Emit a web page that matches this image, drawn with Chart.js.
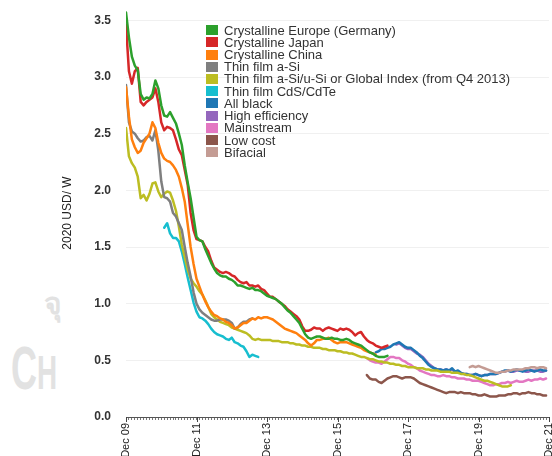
<!DOCTYPE html>
<html>
<head>
<meta charset="utf-8">
<script src="https://cdn.jsdelivr.net/npm/chart.js@4.4.1/dist/chart.umd.min.js"></script>
<style>
  html, body { margin: 0; padding: 0; background: #ffffff; }
  #wrap { position: relative; width: 552px; height: 456px; overflow: hidden; }
  #c { position: absolute; left: 0; top: 0; }
  .mark { position: absolute; color: #e2e2e2; font-family: "Liberation Sans", sans-serif; font-weight: bold; line-height: 1; transform-origin: 0 0; white-space: nowrap; }
  #legend { position: absolute; left: 206px; top: 24px; font-family: "Liberation Sans", Arial, sans-serif; font-size: 13px; color: #333; }
  #legend .row { height: 12.23px; display: flex; align-items: center; white-space: nowrap; }
  #legend .sw { width: 12px; height: 10px; margin-right: 6px; flex: none; }
</style>
</head>
<body>
<div id="wrap">
  <div class="mark" style="left:11px; top:337px; font-size:62px; transform: scaleX(0.58);">C<span style="font-size:48px;">H</span></div>
  <div class="mark" style="left:44px; top:288px; font-size:30px; font-family:'Noto Sans', sans-serif;">จุ</div>
  <canvas id="c" width="552" height="456"></canvas>
  <div id="legend"></div>
</div>
<script>
// Module prices in 2020 USD per watt, monthly, month 0 = Dec 2009
const tickLabels = ['Dec 09', 'Dec 11', 'Dec 13', 'Dec 15', 'Dec 17', 'Dec 19', 'Dec 21'];

const seriesNames = [
  'Crystalline Europe (Germany)', 'Crystalline Japan', 'Crystalline China', 'Thin film a-Si',
  'Thin film a-Si/u-Si or Global Index (from Q4 2013)', 'Thin film CdS/CdTe', 'All black',
  'High efficiency', 'Mainstream', 'Low cost', 'Bifacial'
];
const seriesColors = ['#2ca02c', '#d62728', '#ff7f0e', '#7f7f7f', '#bcbd22', '#17becf',
  '#1f77b4', '#9467bd', '#e377c2', '#8c564b', '#c49c94'];

const europeStart = 0;
const europe = [3.57, 3.35, 3.18, 3.10, 3.06, 2.85, 2.80, 2.82, 2.81, 2.85, 2.97, 2.90, 2.75, 2.66, 2.65, 2.69,
  2.64, 2.59, 2.50, 2.40, 2.22, 2.07, 1.93, 1.76, 1.59, 1.56, 1.55, 1.48, 1.42, 1.36, 1.31, 1.27, 1.25, 1.24,
  1.24, 1.22, 1.21, 1.19, 1.16, 1.16, 1.15, 1.14, 1.13, 1.14, 1.12, 1.12, 1.11, 1.09, 1.07, 1.06, 1.05, 1.04,
  1.02, 1.00, 0.97, 0.94, 0.92, 0.89, 0.86, 0.83, 0.78, 0.73, 0.70, 0.69, 0.70, 0.71, 0.71, 0.70, 0.69, 0.69,
  0.70, 0.69, 0.69, 0.68, 0.68, 0.69, 0.68, 0.66, 0.65, 0.64, 0.63, 0.61, 0.59, 0.57, 0.56, 0.54, 0.53, 0.53,
  0.53, 0.54];

const japanStart = 0;
const japan = [3.46, 3.05, 2.94, 3.05, 3.08, 2.78, 2.75, 2.78, 2.80, 2.82, 2.90, 2.78, 2.60, 2.53, 2.56, 2.55,
  2.53, 2.45, 2.36, 2.31, 2.18, 2.05, 1.80, 1.65, 1.57, 1.56, 1.55, 1.50, 1.46, 1.38, 1.32, 1.30, 1.28, 1.27,
  1.28, 1.27, 1.25, 1.24, 1.21, 1.19, 1.18, 1.19, 1.16, 1.16, 1.15, 1.16, 1.13, 1.12, 1.09, 1.06, 1.06, 1.04,
  1.02, 1.00, 0.98, 0.95, 0.93, 0.91, 0.89, 0.86, 0.80, 0.76, 0.76, 0.77, 0.79, 0.78, 0.78, 0.76, 0.78, 0.79,
  0.78, 0.77, 0.76, 0.78, 0.77, 0.78, 0.77, 0.75, 0.72, 0.74, 0.75, 0.71, 0.68, 0.66, 0.65, 0.63, 0.62, 0.61,
  0.62, 0.63];

const chinaStart = 0;
const china = [2.91, 2.65, 2.45, 2.38, 2.33, 2.35, 2.42, 2.46, 2.50, 2.60, 2.55, 2.42, 2.33, 2.28, 2.26, 2.25,
  2.22, 2.18, 2.12, 2.02, 1.90, 1.70, 1.50, 1.35, 1.22, 1.15, 1.08, 1.02, 0.97, 0.93, 0.90, 0.89, 0.87, 0.86,
  0.84, 0.83, 0.81, 0.78, 0.79, 0.81, 0.83, 0.83, 0.85, 0.87, 0.86, 0.88, 0.87, 0.88, 0.88, 0.87, 0.86, 0.84,
  0.82, 0.80, 0.78, 0.77, 0.76, 0.75, 0.74, 0.72, 0.70, 0.68, 0.65, 0.63, 0.65, 0.68, 0.68, 0.69, 0.69, 0.70,
  0.68, 0.66, 0.65, 0.66, 0.66, 0.66, 0.65, 0.64, 0.63, 0.62, 0.61, 0.59, 0.58, 0.57, 0.56, 0.55];

const aSiStart = 0;
const aSi = [2.93, 2.60, 2.52, 2.50, 2.46, 2.43, 2.44, 2.47, 2.48, 2.44, 2.53, 2.35, 2.08, 1.94, 1.93, 1.90,
  1.80, 1.77, 1.71, 1.65, 1.50, 1.36, 1.24, 1.10, 1.00, 0.95, 0.92, 0.90, 0.88, 0.86, 0.85, 0.85, 0.86, 0.86,
  0.86, 0.85, 0.83, 0.78, 0.79, 0.82, 0.84, 0.84, 0.86, 0.87];

const globalStart = 0;
const globalIdx = [2.55, 2.30, 2.24, 2.20, 2.12, 1.93, 1.96, 1.91, 1.97, 2.06, 2.07, 1.99, 1.94, 1.97, 1.99, 1.98,
  1.91, 1.82, 1.68, 1.52, 1.41, 1.30, 1.22, 1.18, 1.15, 1.11, 1.08, 1.03, 0.97, 0.91, 0.88, 0.86, 0.84, 0.83,
  0.82, 0.81, 0.79, 0.78, 0.77, 0.76, 0.75, 0.74, 0.72, 0.69, 0.68, 0.69, 0.68, 0.68, 0.68, 0.68, 0.67, 0.67,
  0.67, 0.66, 0.66, 0.66, 0.65, 0.65, 0.64, 0.64, 0.63, 0.63, 0.62, 0.62, 0.61, 0.61, 0.61, 0.60, 0.60, 0.59,
  0.59, 0.59, 0.58, 0.58, 0.57, 0.57, 0.56, 0.56, 0.55, 0.54, 0.53, 0.53, 0.52, 0.51, 0.51, 0.50, 0.49, 0.49,
  0.48, 0.48, 0.47, 0.47, 0.46, 0.46, 0.45, 0.45, 0.44, 0.44, 0.44, 0.43, 0.43, 0.43, 0.42, 0.42, 0.41, 0.41,
  0.41, 0.40, 0.40, 0.40, 0.40, 0.39, 0.39, 0.39, 0.38, 0.38, 0.37, 0.37, 0.36, 0.35, 0.34, 0.33, 0.32, 0.32,
  0.31, 0.30, 0.29, 0.28, 0.27, 0.27, 0.27, 0.28];

const cdteStart = 13;
const cdte = [1.67, 1.71, 1.62, 1.58, 1.58, 1.55, 1.46, 1.35, 1.23, 1.12, 1.01, 0.93, 0.88, 0.87, 0.85, 0.82,
  0.78, 0.75, 0.73, 0.72, 0.71, 0.69, 0.68, 0.70, 0.66, 0.65, 0.63, 0.62, 0.58, 0.53, 0.55, 0.54, 0.53];

const allBlackStart = 85;
const allBlack = [0.57, 0.58, 0.60, 0.60, 0.61, 0.62, 0.64, 0.65, 0.66, 0.64, 0.62, 0.61, 0.61, 0.59, 0.57,
  0.54, 0.52, 0.49, 0.46, 0.44, 0.43, 0.42, 0.42, 0.41, 0.42, 0.41, 0.43, 0.40, 0.41, 0.39, 0.38, 0.38, 0.37,
  0.37, 0.38, 0.37, 0.36, 0.37, 0.37, 0.38, 0.38, 0.38, 0.39, 0.40, 0.41, 0.41, 0.40, 0.41, 0.42, 0.41, 0.40,
  0.41, 0.42, 0.41, 0.40, 0.41, 0.42, 0.41, 0.41];

const highEffStart = 92;
const highEff = [0.64, 0.65, 0.63, 0.61, 0.60, 0.60, 0.58, 0.56, 0.55, 0.53, 0.50, 0.47, 0.45, 0.43, 0.42,
  0.42, 0.41, 0.42, 0.41, 0.42, 0.40, 0.40, 0.39, 0.38, 0.38, 0.37, 0.37, 0.38, 0.37, 0.36, 0.37, 0.37, 0.38,
  0.38, 0.38, 0.39, 0.40, 0.40, 0.41, 0.40, 0.40, 0.41, 0.41, 0.41, 0.40, 0.40, 0.41, 0.41, 0.41, 0.40, 0.40,
  0.41];

const mainstreamStart = 82;
const mainstream = [0.52, 0.50, 0.49, 0.48, 0.48, 0.47, 0.49, 0.51, 0.53, 0.53, 0.52, 0.52, 0.50, 0.49, 0.47,
  0.46, 0.44, 0.43, 0.41, 0.40, 0.39, 0.38, 0.37, 0.37, 0.36, 0.36, 0.37, 0.36, 0.36, 0.35, 0.35, 0.34, 0.34,
  0.34, 0.33, 0.33, 0.32, 0.32, 0.32, 0.31, 0.30, 0.29, 0.28, 0.28, 0.29, 0.29, 0.30, 0.30, 0.31, 0.30, 0.31,
  0.32, 0.31, 0.31, 0.32, 0.33, 0.32, 0.33, 0.33, 0.34, 0.33, 0.34];

const lowCostStart = 82;
const lowCost = [0.37, 0.34, 0.33, 0.33, 0.31, 0.30, 0.32, 0.34, 0.35, 0.36, 0.36, 0.35, 0.34, 0.35, 0.35, 0.35,
  0.34, 0.32, 0.30, 0.29, 0.28, 0.27, 0.26, 0.25, 0.24, 0.23, 0.22, 0.21, 0.22, 0.22, 0.22, 0.21, 0.22, 0.21,
  0.21, 0.21, 0.20, 0.20, 0.19, 0.19, 0.20, 0.19, 0.18, 0.18, 0.18, 0.19, 0.19, 0.19, 0.20, 0.20, 0.21, 0.21,
  0.20, 0.21, 0.21, 0.22, 0.21, 0.21, 0.20, 0.20, 0.19, 0.19];

const bifacialStart = 117;
const bifacial = [0.44, 0.45, 0.44, 0.45, 0.44, 0.43, 0.42, 0.41, 0.40, 0.39, 0.39, 0.40, 0.40, 0.41, 0.41,
  0.42, 0.42, 0.42, 0.42, 0.43, 0.43, 0.44, 0.44, 0.43, 0.44, 0.44, 0.43];

const seriesData = [
  [europeStart, europe], [japanStart, japan], [chinaStart, china], [aSiStart, aSi],
  [globalStart, globalIdx], [cdteStart, cdte], [allBlackStart, allBlack], [highEffStart, highEff],
  [mainstreamStart, mainstream], [lowCostStart, lowCost], [bifacialStart, bifacial]
];

const toPoints = (start, vals) => vals.map((v, i) => ({ x: start + i, y: v }));

const datasets = seriesData.map(([start, vals], i) => ({
  label: seriesNames[i],
  data: toPoints(start, vals),
  borderColor: seriesColors[i],
  backgroundColor: seriesColors[i],
  borderWidth: 2.5,
  pointRadius: 0,
  tension: 0,
  borderJoinStyle: 'round',
  borderCapStyle: 'round',
  fill: false
}));
// Bifacial sits above the "All black" line
datasets[10].order = -1;

// Longer tick marks at the labelled (every second December) positions
const majorTicks = {
  id: 'majorTicks',
  afterDraw(chart) {
    const xs = chart.scales.x;
    const ctx = chart.ctx;
    const y0 = chart.chartArea.bottom;
    ctx.save();
    ctx.strokeStyle = '#444';
    ctx.lineWidth = 1;
    tickLabels.forEach((_, k) => {
      const px = Math.round(xs.getPixelForValue(k * 24)) + 0.5;
      ctx.beginPath();
      ctx.moveTo(px, y0);
      ctx.lineTo(px, y0 + 5);
      ctx.stroke();
    });
    ctx.restore();
  }
};

const isHalf = v => Math.abs(v * 2 - Math.round(v * 2)) < 1e-9;

new Chart(document.getElementById('c'), {
  type: 'line',
  data: { datasets },
  options: {
    responsive: false,
    animation: false,
    devicePixelRatio: 1,
    layout: { padding: { left: 60, right: 3, top: 9, bottom: 0 } },
    plugins: { legend: { display: false }, tooltip: { enabled: false } },
    scales: {
      x: {
        type: 'linear',
        min: 0,
        max: 144,
        border: { display: true, color: '#555', width: 1 },
        grid: { display: true, drawOnChartArea: false, drawTicks: true, tickLength: 3, color: '#777', tickColor: '#777' },
        ticks: {
          stepSize: 1,
          autoSkip: false,
          minRotation: 90,
          maxRotation: 90,
          padding: 3,
          color: '#222',
          font: { family: '"Liberation Sans Narrow", "Liberation Sans", Arial, sans-serif', size: 11 },
          callback: v => (v % 24 === 0 ? tickLabels[v / 24] : '')
        },
        afterFit(s) { s.height = 39; s.paddingLeft = 0; s.paddingRight = 0; }
      },
      y: {
        min: 0,
        max: 3.6,
        border: { display: false },
        grid: {
          drawTicks: false,
          color: ctx => (ctx.tick && isHalf(ctx.tick.value) && ctx.tick.value > 0 ? '#f0f0f0' : 'rgba(0,0,0,0)'),
          lineWidth: 1
        },
        ticks: {
          stepSize: 0.5,
          includeBounds: false,
          padding: 15,
          color: '#333',
          font: { family: '"Liberation Sans", Arial, sans-serif', size: 12, weight: 'bold' },
          callback: v => (isHalf(v) ? v.toFixed(1) : '')
        },
        title: {
          display: true,
          text: '2020 USD/ W',
          color: '#222',
          padding: { top: 0, bottom: 0 },
          font: { family: '"Liberation Sans Narrow", "Liberation Sans", Arial, sans-serif', size: 12 }
        },
        afterFit(s) { s.width = 66; s.paddingTop = 0; s.paddingBottom = 0; }
      }
    }
  },
  plugins: [majorTicks]
});

// Legend rows
const legend = document.getElementById('legend');
seriesNames.forEach((name, i) => {
  const row = document.createElement('div');
  row.className = 'row';
  const sw = document.createElement('span');
  sw.className = 'sw';
  sw.style.background = seriesColors[i];
  const txt = document.createElement('span');
  txt.textContent = name;
  row.appendChild(sw);
  row.appendChild(txt);
  legend.appendChild(row);
});
</script>
</body>
</html>
